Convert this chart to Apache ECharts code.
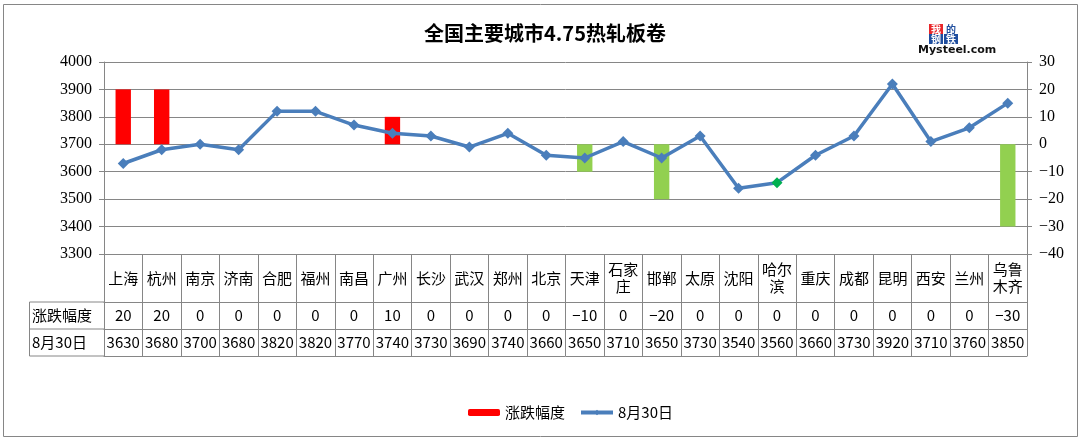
<!DOCTYPE html>
<html>
<head>
<meta charset="utf-8">
<script src="https://cdn.jsdelivr.net/npm/echarts@6/dist/echarts.min.js"></script>
<style>html,body{margin:0;padding:0;background:#fff;}#c{width:1082px;height:442px;}</style>
</head>
<body>
<div id="c"></div>
<script>
const cities = ['上海','杭州','南京','济南','合肥','福州','南昌','广州','长沙','武汉','郑州','北京','天津','石家\n庄','邯郸','太原','沈阳','哈尔\n滨','重庆','成都','昆明','西安','兰州','乌鲁\n木齐'];
const changes = [20,20,0,0,0,0,0,10,0,0,0,0,-10,0,-20,0,0,0,0,0,0,0,0,-30];
const prices = [3630,3680,3700,3680,3820,3820,3770,3740,3730,3690,3740,3660,3650,3710,3650,3730,3540,3560,3660,3730,3920,3710,3760,3850];
const leftTicks = {min:3300, max:4000, interval:100};
const rightTicks = {min:-40, max:30, interval:10};
const highlightIndex = 17;

const GREY = '#868686';
const cjk = '"Noto Sans CJK SC", sans-serif';
const serif = '"Liberation Serif", "DejaVu Serif", serif';

const chart = echarts.init(document.getElementById('c'));
const tableAxis = (offset, fmt, showLabel) => ({
  type:'category', data: cities, position:'bottom', gridIndex:0, offset: offset,
  axisLine:{show:true, onZero:false, lineStyle:{color:GREY, width:1}},
  axisTick:{show:false}, splitLine:{show:false},
  axisLabel:{show:showLabel, interval:0, margin:13.5, verticalAlign:'middle', color:'#000', fontFamily:cjk, fontSize:15, formatter: fmt}
});
chart.setOption({
  animation:false,
  color:['#FF0000','#4A7EBB'],
  title:{text:'全国主要城市4.75热轧板卷', left:540, textAlign:'center', top:18,
    textStyle:{fontFamily:cjk, fontSize:20, fontWeight:'bold', color:'#000'}},
  grid:{left:104, right:55, top:62, bottom:188, containLabel:false},
  legend:{left:463, top:400, itemWidth:32, itemHeight:7, itemGap:14,
    textStyle:{fontFamily:cjk, fontSize:15, color:'#000'},
    data:['涨跌幅度', {name:'8月30日', lineStyle:{width:4}}]},
  xAxis:[
    {type:'category', data:cities, position:'bottom',
      axisLine:{show:true, onZero:false, lineStyle:{color:GREY, width:1}},
      axisTick:{show:true, interval:0, length:102, lineStyle:{color:GREY, width:1}},
      axisLabel:{interval:0, margin:24, verticalAlign:'middle', lineHeight:17, color:'#000', fontFamily:cjk, fontSize:15},
      splitLine:{show:false}},
    tableAxis(48, (v,i)=>String(changes[i]).replace('-','−'), true),
    tableAxis(75, (v,i)=>String(prices[i]), true),
    tableAxis(102, ()=> '', false)
  ],
  yAxis:[
    {type:'value', position:'left', min:leftTicks.min, max:leftTicks.max, interval:leftTicks.interval,
      axisLine:{show:true, lineStyle:{color:GREY}},
      axisTick:{show:true, length:5, lineStyle:{color:GREY}},
      axisLabel:{margin:12, color:'#000', fontFamily:serif, fontSize:16, formatter:(v)=>String(v)},
      splitLine:{show:true, lineStyle:{color:GREY, width:1}}},
    {type:'value', position:'right', min:rightTicks.min, max:rightTicks.max, interval:rightTicks.interval,
      axisLine:{show:true, lineStyle:{color:GREY}},
      axisTick:{show:true, length:5, lineStyle:{color:GREY}},
      axisLabel:{margin:12, color:'#000', fontFamily:serif, fontSize:16, formatter:(v)=>String(v).replace('-','−')},
      splitLine:{show:false}}
  ],
  series:[
    {name:'涨跌幅度', type:'bar', xAxisIndex:0, yAxisIndex:1, data:changes, barWidth:'40%',
      itemStyle:{color:(p)=> p.value < 0 ? '#92D050' : '#FF0000'}},
    {name:'8月30日', type:'line', xAxisIndex:0, yAxisIndex:0, data:prices,
      symbol:'diamond', symbolSize:11, showAllSymbol:true,
      lineStyle:{color:'#4A7EBB', width:3.5},
      itemStyle:{color:(p)=> p.dataIndex === highlightIndex ? '#00B050' : '#4A7EBB'}}
  ],
  graphic:[
    {type:'rect', shape:{x:3.5, y:4.5, width:1074, height:432}, style:{fill:null, stroke:GREY, lineWidth:1}, silent:true, z:-10},
    {type:'line', shape:{x1:29.5, y1:302, x2:104, y2:302}, style:{stroke:GREY, lineWidth:1}},
    {type:'line', shape:{x1:29.5, y1:329, x2:104, y2:329}, style:{stroke:GREY, lineWidth:1}},
    {type:'line', shape:{x1:29.5, y1:356, x2:104, y2:356}, style:{stroke:GREY, lineWidth:1}},
    {type:'line', shape:{x1:29.5, y1:302, x2:29.5, y2:356}, style:{stroke:GREY, lineWidth:1}},
    {type:'text', x:32, y:315.5, style:{text:'涨跌幅度', fill:'#000', font:'15px '+cjk, verticalAlign:'middle'}},
    {type:'text', x:32, y:342.5, style:{text:'8月30日', fill:'#000', font:'15px '+cjk, verticalAlign:'middle'}},
    {type:'rect', shape:{x:929, y:24, width:14, height:10}, style:{fill:'#E8262A'}},
    {type:'text', x:936, y:29, style:{text:'我', fill:'#fff', font:'bold 10px '+cjk, align:'center', verticalAlign:'middle'}},
    {type:'text', x:951, y:29, style:{text:'的', fill:'#1F4E9E', font:'bold 10px '+cjk, align:'center', verticalAlign:'middle'}},
    {type:'rect', shape:{x:929, y:34, width:14, height:10}, style:{fill:'#1F4E9E'}},
    {type:'text', x:936, y:39, style:{text:'钢', fill:'#fff', font:'bold 10px '+cjk, align:'center', verticalAlign:'middle'}},
    {type:'rect', shape:{x:944, y:34, width:14, height:10}, style:{fill:'#1F4E9E'}},
    {type:'text', x:951, y:39, style:{text:'铁', fill:'#fff', font:'bold 10px '+cjk, align:'center', verticalAlign:'middle'}},
    {type:'text', x:918, y:50, style:{text:'Mysteel.com', fill:'#111', font:'bold 11px "DejaVu Sans", sans-serif', verticalAlign:'middle'}}
  ]
});
</script>
</body>
</html>
